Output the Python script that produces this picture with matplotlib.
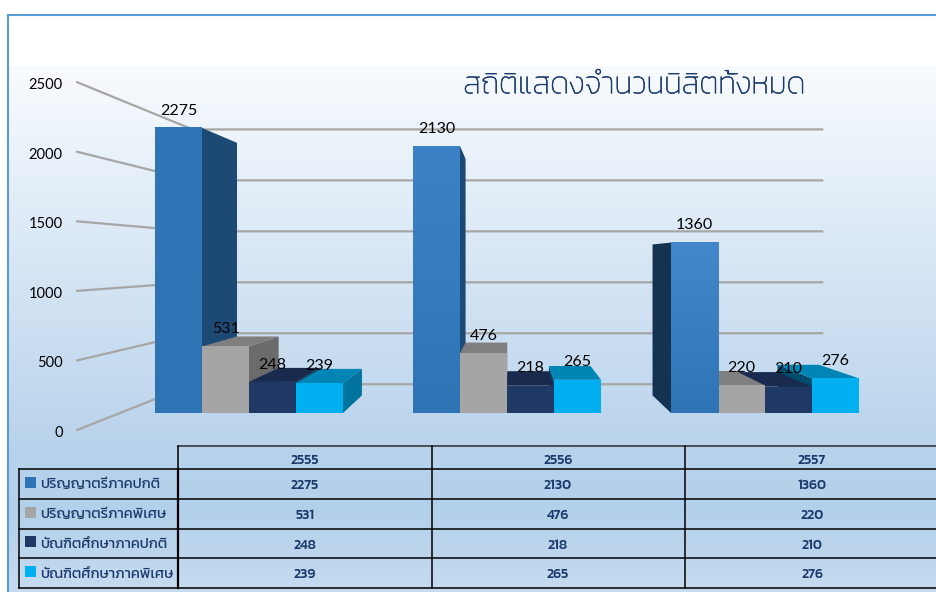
import numpy as np
import matplotlib
matplotlib.use('Agg')
import matplotlib.pyplot as plt
import matplotlib.patheffects as pe
from matplotlib.colors import to_rgb
from matplotlib.patches import Polygon, Rectangle

#---------------------------------------------
#data
#---------------------------------------------
years = ['2555', '2556', '2557']
series_names = ['ปริญญาตรีภาคปกติ', 'ปริญญาตรีภาคพิเศษ', 'บัณฑิตศึกษาภาคปกติ', 'บัณฑิตศึกษาภาคพิเศษ']
bachelor_regular = [2275, 2130, 1360]
bachelor_special = [531, 476, 220]
graduate_regular = [248, 218, 210]
graduate_special = [239, 265, 276]
y_ticks = [0, 500, 1000, 1500, 2000, 2500]
chart_title = 'สถิติแสดงจำนวนนิสิตทั้งหมด'

series_values = [bachelor_regular, bachelor_special, graduate_regular, graduate_special]
front_colors = ['#2e74b5', '#a5a5a5', '#1f3864', '#00b0f0']
top_colors = ['#24598c', '#7f7f7f', '#182a4e', '#0085b5']
right_colors = ['#1c4a75', '#6b6b6b', '#14264a', '#00749c']
left_colors = ['#143252', '#5a5a5a', '#12203f', '#004d6e']
blue_tops = ['#2f75b7', '#3d82c6', '#4488cc']

THAI = ['Kanit', 'Prompt', 'Noto Sans Thai', 'DejaVu Sans']
NAVY = '#1b3a6b'

#---------------------------------------------
#layout
#---------------------------------------------
W, H = 936, 592
PX_PER_VALUE = 0.1253      # front plane of the bars
PX_PER_GROUP = 258.0
ZERO_X, ZERO_Y = 249.0, 413.0
BAR_W = 47.0 / PX_PER_GROUP
DEPTH_BAR = 0.886
DEPTH_WALL_BACK = 0.8135
DEPTH_WALL_FRONT = 1.11
VP_X, VP_Y = 1.0078, 1230.6  # vanishing point in data units

fig = plt.figure(figsize=(W / 100, H / 100), dpi=100)
fig.patch.set_facecolor('white')

#pixel axes for background, frame, title and table
pax = fig.add_axes([0, 0, 1, 1])
pax.axis('off')

#vertical background, a few colour stops
bg_y = [66, 445, 510, 592]
bg_c = np.array([to_rgb(c) for c in ['#f8fbfe', '#b9d3ec', '#b3d0ea', '#c6dbf0']])
rows = np.arange(66, H)
bg = np.stack([np.interp(rows, bg_y, bg_c[:, i]) for i in range(3)], axis=1)[:, None, :]
pax.imshow(bg, extent=(9, W, H, 66), aspect='auto', zorder=0)
pax.set_xlim(0, W)
pax.set_ylim(H, 0)
pax.plot([8, 8, W], [H, 14.5, 14.5], color='#5b9bd5', lw=1.5, solid_joinstyle='miter', zorder=1)

title = pax.text(635, 86, chart_title, family=THAI, fontsize=22, fontweight='light', color=NAVY,
                 ha='center', va='center', zorder=3)
title.set_path_effects([pe.withStroke(linewidth=0.4, foreground=NAVY)])

#table
col_x = [178, 432, 685]
row_y = [446, 468.5, 498.5, 528.5, 558, 588]
col_c = [305, 558, 812]
for y in row_y[1:]:
    pax.plot([19, W], [y, y], color='black', lw=1.1, zorder=2)
pax.plot([178, W], [row_y[0], row_y[0]], color='#2b2b2b', lw=1.1, zorder=2)
pax.plot([19, 19], [row_y[1], row_y[-1]], color='black', lw=1.1, zorder=2)
pax.plot([178, 178], [row_y[1], row_y[-1]], color='black', lw=1.6, zorder=2)
for x in col_x:
    pax.plot([x, x], [row_y[0], row_y[-1]], color='black', lw=1.1, zorder=2)
for i, yr in enumerate(years):
    pax.text(col_c[i], 460, yr, family=THAI, fontsize=10, fontweight='medium', color=NAVY,
             ha='center', va='center', zorder=3)
for r, name in enumerate(series_names):
    yc = (row_y[r + 1] + row_y[r + 2]) / 2
    pax.add_patch(Rectangle((25, yc - 7), 11, 11, facecolor=front_colors[r], edgecolor='none', zorder=3))
    pax.text(40, yc + 1, name, family=THAI, fontsize=10.5, color=NAVY, ha='left', va='center', zorder=3)
    for i in range(len(years)):
        pax.text(col_c[i], yc + 2, str(series_values[r][i]), family=THAI, fontsize=10, fontweight='medium',
                 color=NAVY, ha='center', va='center', zorder=3)

#---------------------------------------------
#chart axes, x in groups and y in values
#---------------------------------------------
ax = fig.add_axes([0, 0, 1, 1])
ax.patch.set_alpha(0)
ax.axis('off')
x_lim = (-ZERO_X / PX_PER_GROUP, (W - ZERO_X) / PX_PER_GROUP)
y_lim = ((ZERO_Y - H) / PX_PER_VALUE, ZERO_Y / PX_PER_VALUE)

def project(x, v, depth):
    return VP_X + (x - VP_X) * depth, VP_Y + (v - VP_Y) * depth

#walls
for t in y_ticks:
    fx, fy = project(-0.5, t, DEPTH_WALL_FRONT)
    bx, by = project(-0.5, t, DEPTH_WALL_BACK)
    ex, ey = project(2.5, t, DEPTH_WALL_BACK)
    ax.plot([fx, bx, ex], [fy, by, ey], color='#a6a6a6', lw=1.6, zorder=1, solid_joinstyle='miter')
    ax.annotate(str(t), (fx, fy), xytext=(-10.5, -2), textcoords='offset points', ha='right', va='center',
                family='Lato', fontsize=10.5, color='black', zorder=9)

#bars, farthest from the vanishing point goes first
bars = []
for g in range(len(years)):
    for s in range(len(series_values)):
        left = g + (s - 2) * BAR_W
        bars.append((abs(left + BAR_W / 2 - VP_X), g, s, left))
bars.sort(key=lambda b: -b[0])

z = 2
fade = np.linspace(0, 1, 256)[:, None, None]
for _, g, s, left in bars:
    v = series_values[s][g]
    right = left + BAR_W
    if right < VP_X:
        p = [project(right, 0, 1), project(right, v, 1), project(right, v, DEPTH_BAR), project(right, 0, DEPTH_BAR)]
        ax.add_patch(Polygon(p, facecolor=right_colors[s], edgecolor='none', zorder=z))
    if left > VP_X:
        p = [project(left, 0, 1), project(left, v, 1), project(left, v, DEPTH_BAR), project(left, 0, DEPTH_BAR)]
        ax.add_patch(Polygon(p, facecolor=left_colors[s], edgecolor='none', zorder=z))
    if v < VP_Y:
        p = [project(left, v, 1), project(right, v, 1), project(right, v, DEPTH_BAR), project(left, v, DEPTH_BAR)]
        ax.add_patch(Polygon(p, facecolor=top_colors[s], edgecolor='none', zorder=z))
    ax.bar(left, v, BAR_W, align='edge', color=front_colors[s], linewidth=0, zorder=z + 0.5)
    if s == 0:
        #tall bars are a little lighter at the top
        top_rgb = np.array(to_rgb(blue_tops[g]))
        bot_rgb = np.array(to_rgb(front_colors[s]))
        ax.imshow(top_rgb + (bot_rgb - top_rgb) * fade, extent=(left, right, 0, v), aspect='auto', zorder=z + 0.6)
    z += 1

for s in range(len(series_values)):
    for g in range(len(years)):
        v = series_values[s][g]
        x = g + (s - 2) * BAR_W + BAR_W / 2
        ax.annotate(str(v), (x, v), xytext=(0, 12.5), textcoords='offset points', ha='center', va='center',
                    family='Lato', fontsize=11.5, color='black', zorder=50)

ax.set_xlim(*x_lim)
ax.set_ylim(*y_lim)

fig.savefig('out.png', dpi=100, facecolor='white')
